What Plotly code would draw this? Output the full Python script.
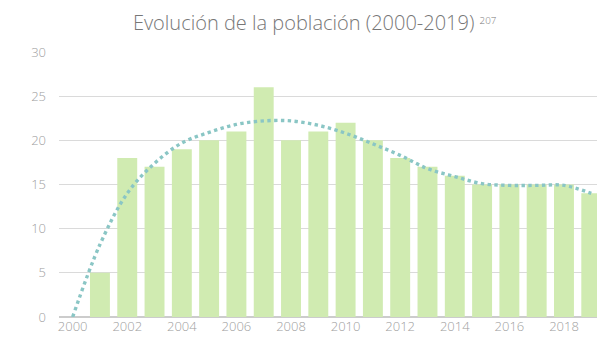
import plotly.graph_objects as go

years = list(range(2000, 2020))
poblacion = [0, 5, 18, 17, 19, 20, 21, 26, 20, 21, 22, 20, 18, 17, 16, 15, 15, 15, 15, 14]
tendencia = [0, 8.2, 14.0, 17.4, 19.7, 20.9, 21.8, 22.2, 22.2, 21.7, 20.8, 19.6,
             18.3, 16.8, 15.9, 15.1, 14.9, 14.9, 14.9, 14.0]
y_ticks = [0, 5, 10, 15, 20, 25, 30]
x_ticks = list(range(2000, 2019, 2))

FONT = "Open Sans"
fig = go.Figure()
fig.add_trace(go.Bar(
    x=years, y=poblacion,
    marker=dict(color="#d0ebb1", line=dict(width=0)),
    hoverinfo="x+y",
))
fig.add_trace(go.Scatter(
    x=years, y=tendencia, mode="lines",
    line=dict(color="#8ac6c5", width=3.4, dash="dot", shape="spline", smoothing=1.0),
    hoverinfo="skip",
))
fig.update_layout(
    width=597, height=349,
    margin=dict(l=59, r=0, t=52, b=32),
    paper_bgcolor="white", plot_bgcolor="white",
    showlegend=False, bargap=0.27,
    font=dict(family=FONT, color="#a0a0a0", size=13, weight=300),
    title=dict(
        text="Evolución de la población (2000-2019) <span style='font-size:14px'><sup>207</sup></span>",
        x=0.527, xanchor="center", y=0.935, yanchor="middle",
        font=dict(family=FONT, size=20, color="#777777", weight=300),
    ),
    xaxis=dict(
        range=[1999.5, 2019.21], tickvals=x_ticks, ticktext=[str(t) for t in x_ticks],
        showgrid=False, zeroline=False, showline=False, ticks="",
        tickfont=dict(size=13, color="#a0a0a0", weight=300),
    ),
    yaxis=dict(
        range=[0, 30], tickvals=y_ticks, showgrid=True, gridcolor="#dadada", gridwidth=1.3,
        zeroline=True, zerolinecolor="#cccccc", zerolinewidth=1.5, showline=False, ticks="",
        ticklabelstandoff=12, tickfont=dict(size=13, color="#a0a0a0", weight=300),
    ),
)
fig.write_html("out.html")
